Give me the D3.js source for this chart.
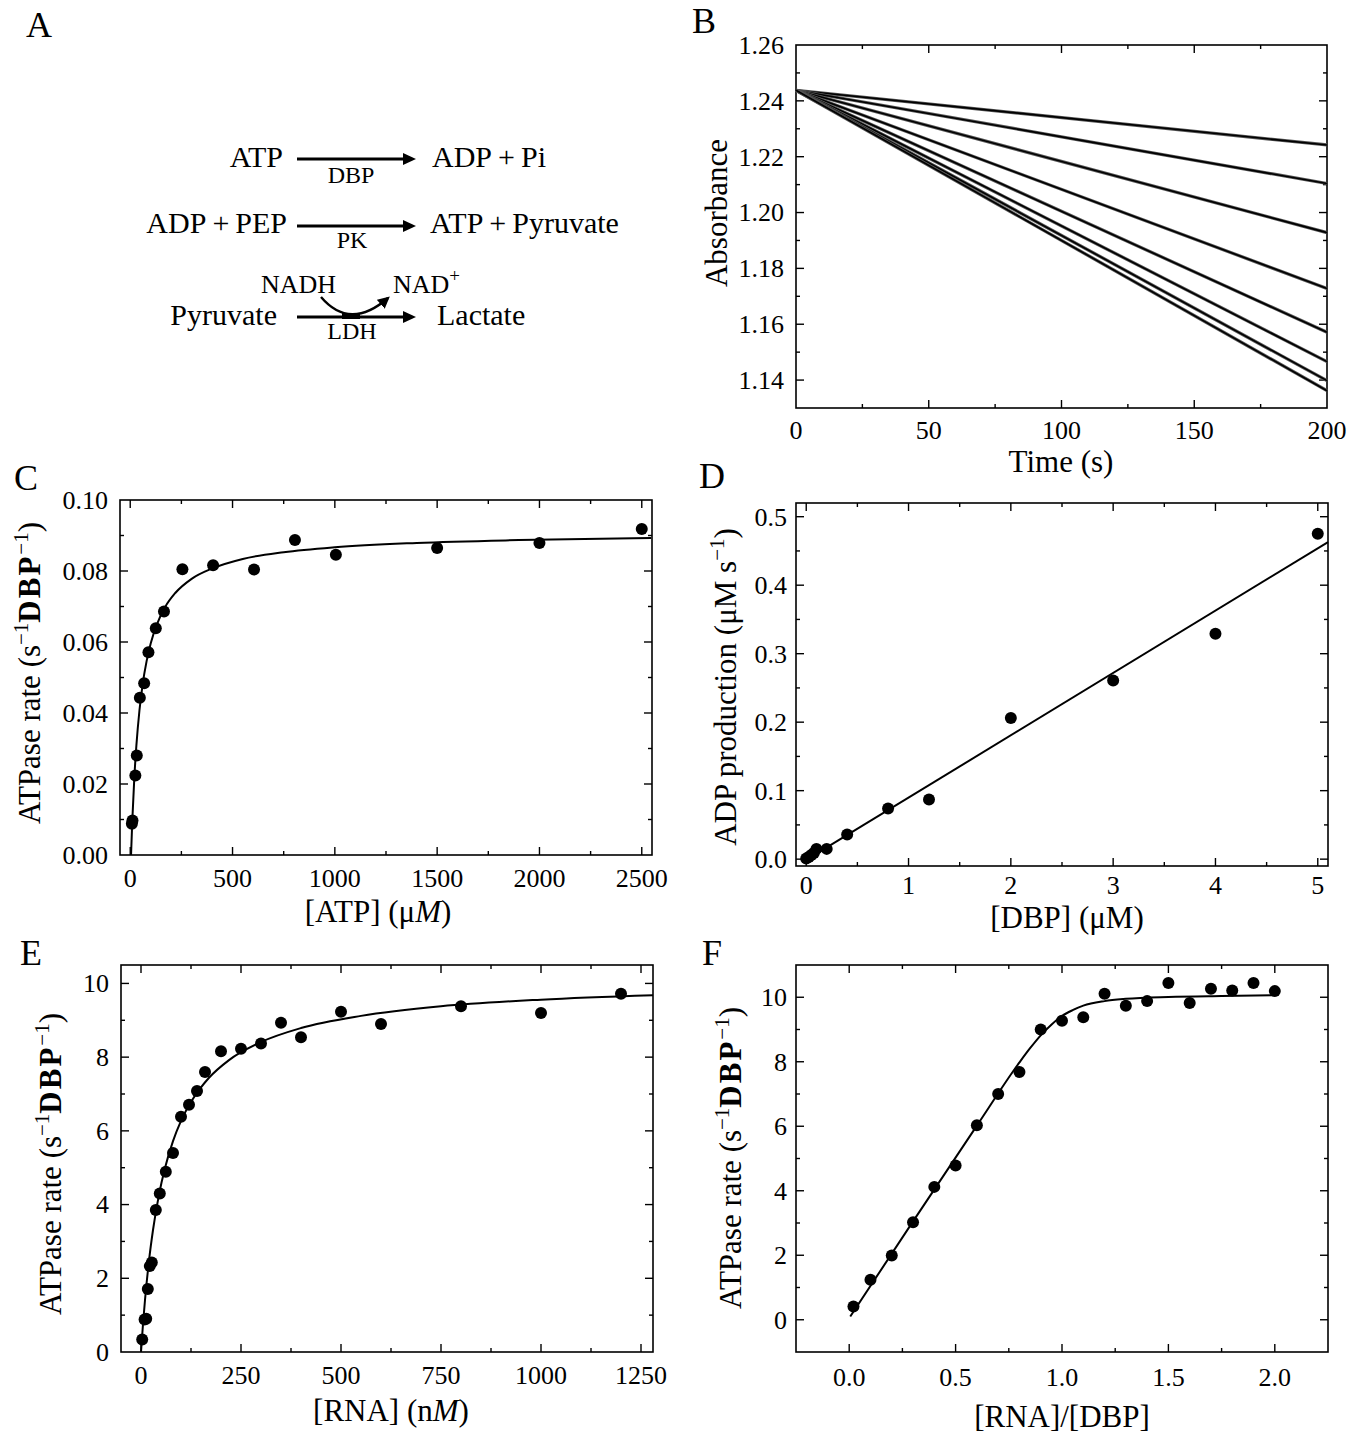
<!DOCTYPE html>
<html><head><meta charset="utf-8">
<script src="https://cdn.jsdelivr.net/npm/d3@7"></script>
<style>
body{margin:0;background:#fff}
svg text{font-family:"Liberation Serif","Times New Roman",Times,serif;fill:#000}
</style>
</head><body>
<svg id="fig" width="1358" height="1440" xmlns="http://www.w3.org/2000/svg"></svg>
<script>
// ---------------- DATA ----------------
// Panel B: absorbance traces (start / end at t = 0 s and t = 200 s)
const bTime = [0, 200];
const bStartAbs = [1.2438, 1.2438, 1.2438, 1.2438, 1.2438, 1.2438, 1.2438, 1.2438];
const bEndAbs   = [1.2242, 1.2104, 1.1928, 1.1728, 1.1571, 1.1466, 1.1398, 1.1362];
const bXTicks = [0, 50, 100, 150, 200];
const bYTicks = [1.14, 1.16, 1.18, 1.20, 1.22, 1.24, 1.26];

// Panel C: ATPase rate vs [ATP]
const cATP  = [8, 11, 25, 32, 47, 68, 89, 125, 165, 255, 405, 605, 805, 1005, 1500, 2000, 2500];
const cRate = [0.0088, 0.0097, 0.0224, 0.0280, 0.0443, 0.0484, 0.0571, 0.0639, 0.0686, 0.0805, 0.0816, 0.0804, 0.0887, 0.0846, 0.0865, 0.0879, 0.0918];
const cFitATP  = [4, 10, 20, 30, 45, 60, 80, 100, 130, 170, 220, 300, 400, 550, 750, 1000, 1400, 1900, 2546];
const cFitRate = [0, 0.0096, 0.0218, 0.0308, 0.0407, 0.0478, 0.0546, 0.0596, 0.0649, 0.0698, 0.0738, 0.0778, 0.0807, 0.0834, 0.0853, 0.0867, 0.0879, 0.0887, 0.0893];
const cXTicks = [0, 500, 1000, 1500, 2000, 2500];
const cYTicks = [0.00, 0.02, 0.04, 0.06, 0.08, 0.10];

// Panel D: ADP production vs [DBP]
const dDBP = [0, 0.025, 0.05, 0.075, 0.1, 0.2, 0.4, 0.8, 1.2, 2, 3, 4, 5];
const dADP = [0.001, 0.003, 0.006, 0.009, 0.015, 0.015, 0.036, 0.074, 0.087, 0.206, 0.261, 0.329, 0.475];
const dFitDBP = [-0.02, 5.1];
const dFitADP = [-0.003, 0.463];
const dXTicks = [0, 1, 2, 3, 4, 5];
const dYTicks = [0.0, 0.1, 0.2, 0.3, 0.4, 0.5];

// Panel E: ATPase rate vs [RNA]
const eRNA  = [3, 9, 13, 17, 22, 27, 37, 47, 62, 80, 100, 120, 140, 160, 200, 250, 300, 350, 400, 500, 600, 800, 1000, 1200];
const eRate = [0.34, 0.88, 0.90, 1.71, 2.33, 2.43, 3.85, 4.30, 4.89, 5.40, 6.38, 6.71, 7.08, 7.60, 8.16, 8.23, 8.37, 8.93, 8.54, 9.23, 8.90, 9.38, 9.20, 9.72];
const eFitRNA  = [0, 5, 10, 20, 30, 45, 60, 80, 100, 130, 170, 220, 300, 400, 550, 750, 1000, 1280];
const eFitRate = [0, 0.76, 1.41, 2.48, 3.31, 4.27, 4.99, 5.72, 6.27, 6.87, 7.44, 7.92, 8.41, 8.79, 9.12, 9.38, 9.56, 9.68];
const eXTicks = [0, 250, 500, 750, 1000, 1250];
const eYTicks = [0, 2, 4, 6, 8, 10];

// Panel F: ATPase rate vs [RNA]/[DBP]
const fRatio = [0.02, 0.1, 0.2, 0.3, 0.4, 0.5, 0.6, 0.7, 0.8, 0.9, 1.0, 1.1, 1.2, 1.3, 1.4, 1.5, 1.6, 1.7, 1.8, 1.9, 2.0];
const fRate  = [0.41, 1.24, 1.99, 3.02, 4.12, 4.78, 6.03, 7.00, 7.68, 9.00, 9.27, 9.38, 10.11, 9.74, 9.88, 10.44, 9.82, 10.26, 10.21, 10.44, 10.19];
const fFitRatio = [0.005, 0.3, 0.6, 0.8, 0.85, 0.9, 0.95, 1.0, 1.05, 1.1, 1.2, 1.3, 1.5, 1.75, 2.0];
const fFitRate  = [0.1, 3.05, 6.02, 7.98, 8.42, 8.82, 9.15, 9.42, 9.60, 9.74, 9.88, 9.95, 10.01, 10.04, 10.06];
const fXTicks = [0.0, 0.5, 1.0, 1.5, 2.0];
const fYTicks = [0, 2, 4, 6, 8, 10];

// ---------------- DRAWING ----------------
const svg = d3.select('#fig');
const TICK_FS = 26, TITLE_FS = 31;

function minors(ticks) {
  const m = [];
  for (let i = 0; i < ticks.length - 1; i++) m.push((ticks[i] + ticks[i + 1]) / 2);
  return m;
}

function panel(cfg) {
  const g = svg.append('g');
  const x = d3.scaleLinear().domain(cfg.xDomain).range([cfg.left, cfg.right]);
  const y = d3.scaleLinear().domain(cfg.yDomain).range([cfg.bottom, cfg.top]);
  const MAJ = 8, MIN = 4;
  const tk = g.append('g').attr('stroke', '#000').attr('stroke-width', 1.4);
  const inX = v => v > cfg.xDomain[0] && v < cfg.xDomain[1];
  const inY = v => v > cfg.yDomain[0] && v < cfg.yDomain[1];
  const xt = [...cfg.xTicks.map(v => [v, MAJ]), ...minors(cfg.xTicks).map(v => [v, MIN])];
  const yt = [...cfg.yTicks.map(v => [v, MAJ]), ...minors(cfg.yTicks).map(v => [v, MIN])];
  xt.filter(d => inX(d[0])).forEach(([v, L]) => {
    tk.append('line').attr('x1', x(v)).attr('x2', x(v)).attr('y1', cfg.bottom).attr('y2', cfg.bottom - L);
    tk.append('line').attr('x1', x(v)).attr('x2', x(v)).attr('y1', cfg.top).attr('y2', cfg.top + L);
  });
  yt.filter(d => inY(d[0])).forEach(([v, L]) => {
    tk.append('line').attr('y1', y(v)).attr('y2', y(v)).attr('x1', cfg.left).attr('x2', cfg.left + L);
    tk.append('line').attr('y1', y(v)).attr('y2', y(v)).attr('x1', cfg.right).attr('x2', cfg.right - L);
  });
  g.append('rect').attr('x', cfg.left).attr('y', cfg.top)
    .attr('width', cfg.right - cfg.left).attr('height', cfg.bottom - cfg.top)
    .attr('fill', 'none').attr('stroke', '#000').attr('stroke-width', 1.6);
  cfg.xTicks.forEach(v => {
    g.append('text').attr('x', x(v)).attr('y', cfg.bottom + cfg.xLabOff)
      .attr('text-anchor', 'middle').attr('font-size', TICK_FS).text(cfg.xFmt(v));
  });
  cfg.yTicks.forEach(v => {
    g.append('text').attr('x', cfg.left - cfg.yLabGap).attr('y', y(v)).attr('dy', '0.34em')
      .attr('text-anchor', 'end').attr('font-size', TICK_FS).text(cfg.yFmt(v));
  });
  g.append('text').attr('x', cfg.letter[0]).attr('y', cfg.letter[1]).attr('font-size', 36).text(cfg.letter[2]);
  return { g, x, y };
}

function xTitle(g, cx, by, parts) {
  const t = g.append('text').attr('x', cx).attr('y', by).attr('text-anchor', 'middle').attr('font-size', TITLE_FS);
  parts.forEach(p => {
    const s = t.append('tspan').text(p.t);
    if (p.i) s.attr('font-style', 'italic');
  });
}

function yTitle(g, bx, cy, parts) {
  const t = g.append('text').attr('transform', `translate(${bx},${cy}) rotate(-90)`)
    .attr('text-anchor', 'middle').attr('font-size', TITLE_FS);
  parts.forEach(p => {
    const s = t.append('tspan').text(p.t);
    if (p.sup) s.attr('font-size', 21).attr('dy', -12);
    if (p.down) s.attr('dy', 12);
    if (p.b) s.attr('font-weight', 'bold').attr('letter-spacing', 2);
    if (p.i) s.attr('font-style', 'italic');
  });
}

function dots(P, xs, ys) {
  P.g.append('g').selectAll('circle').data(xs.map((v, i) => [v, ys[i]])).join('circle')
    .attr('cx', d => P.x(d[0])).attr('cy', d => P.y(d[1])).attr('r', 6).attr('fill', '#000');
}
function fit(P, xs, ys, curve) {
  const line = d3.line().x(d => P.x(d[0])).y(d => P.y(d[1])).curve(curve || d3.curveMonotoneX);
  P.g.append('path').attr('d', line(xs.map((v, i) => [v, ys[i]])))
    .attr('fill', 'none').attr('stroke', '#000').attr('stroke-width', 2);
}

const f2 = d3.format('.2f'), f1 = d3.format('.1f'), f0 = d3.format('d');

// ---- Panel A: reaction scheme ----
(function () {
  const g = svg.append('g');
  g.append('text').attr('x', 26).attr('y', 37).attr('font-size', 36).text('A');
  const defs = svg.append('defs');
  defs.append('marker').attr('id', 'hd').attr('viewBox', '0 0 10 10').attr('refX', 8).attr('refY', 5)
    .attr('markerWidth', 5).attr('markerHeight', 5).attr('orient', 'auto').attr('markerUnits', 'strokeWidth')
    .append('path').attr('d', 'M0,0 L10,5 L0,10 z').attr('fill', '#000');
  function arrow(x1, x2, y) {
    g.append('line').attr('x1', x1).attr('x2', x2 - 10).attr('y1', y).attr('y2', y)
      .attr('stroke', '#000').attr('stroke-width', 3);
    g.append('path').attr('d', `M${x2},${y} L${x2 - 13},${y - 6} L${x2 - 13},${y + 6} z`).attr('fill', '#000');
  }
  const T = (x, y, s, anchor, fs) => g.append('text').attr('x', x).attr('y', y)
    .attr('text-anchor', anchor || 'start').attr('font-size', fs || 30).text(s);
  T(283, 167, 'ATP', 'end');
  arrow(297, 416, 159);
  T(351, 183, 'DBP', 'middle', 24);
  T(432, 167, 'ADP\u2009+\u2009Pi');
  T(287, 233, 'ADP\u2009+\u2009PEP', 'end');
  arrow(297, 416, 226);
  T(352, 248, 'PK', 'middle', 24);
  T(430, 233, 'ATP\u2009+\u2009Pyruvate');
  T(261, 293, 'NADH', 'start', 26);
  const nad = T(393, 293, 'NAD', 'start', 26);
  nad.append('tspan').attr('font-size', 19).attr('dy', -11).text('+');
  T(277, 325, 'Pyruvate', 'end');
  arrow(297, 416, 317);
  T(352, 339, 'LDH', 'middle', 24);
  T(437, 325, 'Lactate');
  g.append('path').attr('d', 'M321,297 Q350,331 388,298').attr('fill', 'none')
    .attr('stroke', '#000').attr('stroke-width', 2.4).attr('marker-end', 'url(#hd)');
  g.append('rect').attr('x', 342).attr('y', 313).attr('width', 18).attr('height', 6).attr('fill', '#000');
})();

// ---- Panel B ----
(function () {
  const P = panel({ left: 796, right: 1327, top: 45, bottom: 408, xDomain: [0, 200], yDomain: [1.13, 1.26],
    xTicks: bXTicks, yTicks: bYTicks, xFmt: f0, yFmt: f2, xLabOff: 31, yLabGap: 12, letter: [692, 33, 'B'] });
  const line = d3.line().x(d => P.x(d[0])).y(d => P.y(d[1]));
  bEndAbs.forEach((e, i) => {
    const pts = [[bTime[0], bStartAbs[i]], [bTime[1], e]];
    P.g.append('path').attr('d', line(pts)).attr('fill', 'none').attr('stroke', '#555').attr('stroke-width', 3.2);
    P.g.append('path').attr('d', line(pts)).attr('fill', 'none').attr('stroke', '#000').attr('stroke-width', 1.6);
  });
  yTitle(P.g, 727, 213, [{ t: 'Absorbance' }]);
  xTitle(P.g, 1061, 472, [{ t: 'Time (s)' }]);
})();

// ---- Panel C ----
(function () {
  const P = panel({ left: 120, right: 652, top: 500, bottom: 855, xDomain: [-50, 2550], yDomain: [0, 0.10],
    xTicks: cXTicks, yTicks: cYTicks, xFmt: f0, yFmt: f2, xLabOff: 32, yLabGap: 12, letter: [14, 490, 'C'] });
  fit(P, cFitATP, cFitRate);
  dots(P, cATP, cRate);
  yTitle(P.g, 40, 673, [{ t: 'ATPase rate (s' }, { t: '−1', sup: 1 }, { t: 'DBP', down: 1, b: 1 }, { t: '−1', sup: 1 }, { t: ')', down: 1 }]);
  xTitle(P.g, 378, 922, [{ t: '[ATP] (μ' }, { t: 'M', i: 1 }, { t: ')' }]);
})();

// ---- Panel D ----
(function () {
  const P = panel({ left: 796, right: 1328, top: 503, bottom: 866, xDomain: [-0.1, 5.1], yDomain: [-0.01, 0.52],
    xTicks: dXTicks, yTicks: dYTicks, xFmt: f0, yFmt: f1, xLabOff: 28, yLabGap: 9, letter: [699, 488, 'D'] });
  fit(P, dFitDBP, dFitADP, d3.curveLinear);
  dots(P, dDBP, dADP);
  yTitle(P.g, 736, 687, [{ t: 'ADP production (μM s' }, { t: '−1', sup: 1 }, { t: ')', down: 1 }]);
  xTitle(P.g, 1067, 928, [{ t: '[DBP] (μM)' }]);
})();

// ---- Panel E ----
(function () {
  const P = panel({ left: 121, right: 653, top: 965, bottom: 1352, xDomain: [-50, 1280], yDomain: [0, 10.5],
    xTicks: eXTicks, yTicks: eYTicks, xFmt: f0, yFmt: f0, xLabOff: 32, yLabGap: 12, letter: [20, 965, 'E'] });
  fit(P, eFitRNA, eFitRate);
  dots(P, eRNA, eRate);
  yTitle(P.g, 61, 1164, [{ t: 'ATPase rate (s' }, { t: '−1', sup: 1 }, { t: 'DBP', down: 1, b: 1 }, { t: '−1', sup: 1 }, { t: ')', down: 1 }]);
  xTitle(P.g, 391, 1421, [{ t: '[RNA] (n' }, { t: 'M', i: 1 }, { t: ')' }]);
})();

// ---- Panel F ----
(function () {
  const P = panel({ left: 796, right: 1328, top: 965, bottom: 1352, xDomain: [-0.25, 2.25], yDomain: [-1, 11],
    xTicks: fXTicks, yTicks: fYTicks, xFmt: f1, yFmt: f0, xLabOff: 34, yLabGap: 9, letter: [702, 965, 'F'] });
  fit(P, fFitRatio, fFitRate);
  dots(P, fRatio, fRate);
  yTitle(P.g, 741, 1158, [{ t: 'ATPase rate (s' }, { t: '−1', sup: 1 }, { t: 'DBP', down: 1, b: 1 }, { t: '−1', sup: 1 }, { t: ')', down: 1 }]);
  xTitle(P.g, 1062, 1427, [{ t: '[RNA]/[DBP]' }]);
})();
</script>
</body></html>
